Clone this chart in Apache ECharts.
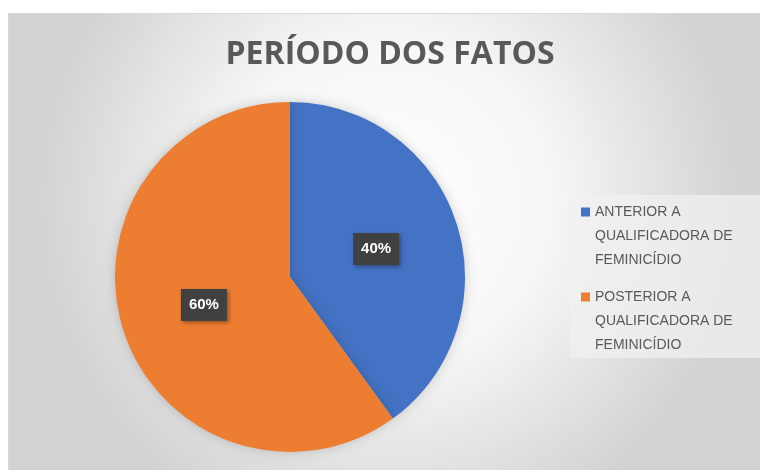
<!DOCTYPE html>
<html>
<head>
<meta charset="utf-8">
<script src="https://cdn.jsdelivr.net/npm/echarts@6/dist/echarts.min.js"></script>
<style>
  html, body { margin: 0; padding: 0; background: #fff; }
  #chart { width: 760px; height: 470px; }
</style>
</head>
<body>
<div id="chart"></div>
<script>
  const categories = ['ANTERIOR A\nQUALIFICADORA DE\nFEMINICÍDIO', 'POSTERIOR A\nQUALIFICADORA DE\nFEMINICÍDIO'];
  const values = [40, 60];
  const colors = ['#4472c4', '#ed7d31'];

  const chart = echarts.init(document.getElementById('chart'));

  // legend square sits on the first text line, like the original
  const legendText = (name) => {
    const i = categories.indexOf(name);
    return name
      .split('\n')
      .map((line, j) => (j === 0 ? `{sq${i}|}{g|}{t|${line}}` : `{ind|}{t|${line}}`))
      .join('\n');
  };

  const option = {
    graphic: [
      {
        type: 'rect',
        silent: true,
        z: -10,
        shape: { x: 8.5, y: 13.5, width: 760, height: 470 },
        style: {
          fill: new echarts.graphic.RadialGradient(0.5, 0.4, 0.75, [
            { offset: 0, color: '#ffffff' },
            { offset: 0.45, color: '#f7f7f7' },
            { offset: 1, color: '#d2d2d2' },
          ]),
          stroke: '#d9d9d9',
          lineWidth: 1,
        },
      },
      {
        type: 'rect',
        silent: true,
        z: -9,
        shape: { x: 570, y: 195, width: 200, height: 163 },
        style: { fill: 'rgba(240, 240, 240, 0.75)' },
      },
    ],
    title: {
      text: 'PERÍODO DOS FATOS',
      left: 385,
      textAlign: 'center',
      top: 34,
      textStyle: {
        fontFamily: 'Open Sans',
        fontWeight: 'bold',
        fontSize: 32,
        color: '#595959',
      },
    },
    legend: {
      orient: 'vertical',
      left: 576,
      top: 205,
      padding: 0,
      icon: 'none',
      itemWidth: 0,
      itemHeight: 0,
      itemGap: 23,
      data: categories,
      formatter: legendText,
      textStyle: {
        rich: {
          sq0: { width: 9, height: 9, backgroundColor: colors[0] },
          sq1: { width: 9, height: 9, backgroundColor: colors[1] },
          g: { width: 5 },
          ind: { width: 14 },
          t: {
            fontFamily: 'Liberation Sans',
            fontSize: 14,
            lineHeight: 24,
            color: '#595959',
          },
        },
      },
    },
    series: [
      {
        type: 'pie',
        center: [290, 277],
        radius: 175,
        startAngle: 90,
        clockwise: true,
        silent: true,
        data: categories.map((name, i) => ({
          name,
          value: values[i],
          itemStyle: { color: colors[i] },
        })),
        itemStyle: {
          shadowColor: 'rgba(0, 0, 0, 0.18)',
          shadowBlur: 12,
        },
        label: {
          show: true,
          position: 'inside',
          formatter: '{d}%',
          fontFamily: 'Liberation Sans',
          fontWeight: 'bold',
          fontSize: 15,
          color: '#ffffff',
          backgroundColor: '#404040',
          padding: [9, 8, 8, 8],
          shadowColor: 'rgba(0, 0, 0, 0.35)',
          shadowBlur: 4,
          shadowOffsetX: 2,
          shadowOffsetY: 2,
        },
        labelLine: { show: false },
      },
    ],
  };

  chart.setOption(option);
</script>
</body>
</html>
